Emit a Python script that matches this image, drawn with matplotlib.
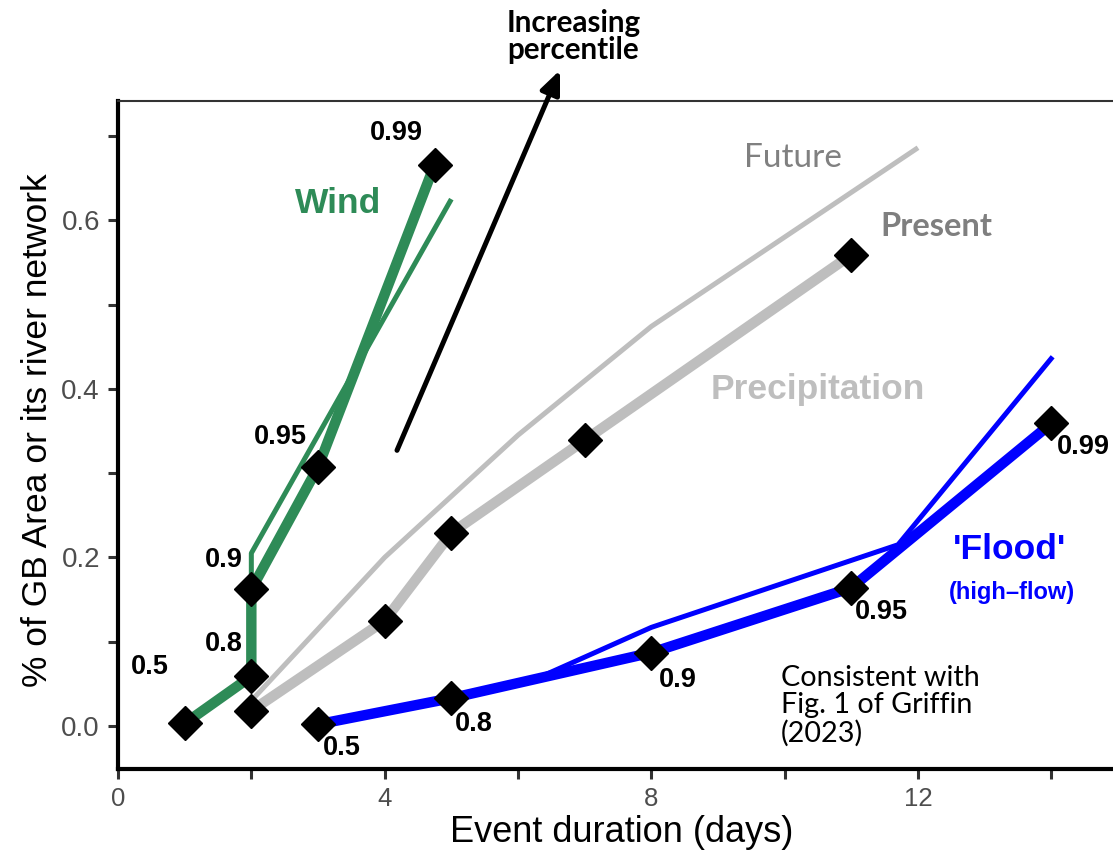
import matplotlib
matplotlib.use("Agg")
import matplotlib.pyplot as plt
import numpy as np

# present day (thick lines with markers)
wind_x = [1, 2, 2, 3, 4.75]
wind_y = [0.003, 0.059, 0.162, 0.307, 0.666]
precip_x = [2, 4, 5, 7, 11]
precip_y = [0.018, 0.125, 0.229, 0.339, 0.559]
flood_x = [3, 5, 8, 11, 14]
flood_y = [0.002, 0.033, 0.087, 0.164, 0.359]

# future (thin lines)
wind_fut_x = [2, 2, 3, 4, 5.0]
wind_fut_y = [0.07, 0.205, 0.345, 0.485, 0.625]
precip_fut_x = [2, 4, 6, 8, 12]
precip_fut_y = [0.03, 0.2, 0.345, 0.474, 0.686]
flood_fut_x = [3, 6.3, 8, 11.7, 14.02]
flood_fut_y = [0.0, 0.057, 0.117, 0.215, 0.438]

wind_pct = ["0.5", "0.8", "0.9", "0.95", "0.99"]
flood_pct = ["0.5", "0.8", "0.9", "0.95", "0.99"]

GREEN = "#2E8B57"
GREY = "#BEBEBE"
BLUE = "#0000FF"
R_FONT = "Liberation Sans"
C_FONT = "Lato"

plt.rcParams['font.family'] = R_FONT

fig = plt.figure(figsize=(11.13, 8.59), dpi=100)
ax = fig.add_axes([118/1113, 90/859, 995/1113, 668/859])

thin = 3.6
thick = 7.5
for x, y, c in [(wind_fut_x, wind_fut_y, GREEN), (precip_fut_x, precip_fut_y, GREY), (flood_fut_x, flood_fut_y, BLUE)]:
    ax.plot(x, y, color=c, lw=thin, solid_capstyle='butt', solid_joinstyle='round', zorder=2)
for x, y, c in [(wind_x, wind_y, GREEN), (precip_x, precip_y, GREY), (flood_x, flood_y, BLUE)]:
    ax.plot(x, y, color=c, lw=thick, solid_capstyle='butt', solid_joinstyle='round', zorder=3)
    ax.plot(x, y, ls='none', marker='D', ms=17.5, color='black', zorder=5)

# percentile labels
wind_lab_pos = [(0.48, 0.070), (1.59, 0.097), (1.59, 0.197), (2.43, 0.343), (4.17, 0.703)]
flood_lab_pos = [(3.36, -0.026), (5.33, 0.002), (8.4, 0.055), (11.45, 0.135), (14.48, 0.331)]
for lab, (px, py) in zip(wind_pct, wind_lab_pos):
    ax.text(px, py, lab, fontsize=19.5, fontweight='bold', ha='center', va='center', zorder=6)
for lab, (px, py) in zip(flood_pct, flood_lab_pos):
    ax.text(px, py, lab, fontsize=19.5, fontweight='bold', ha='center', va='center', zorder=6, clip_on=False)

# series annotations
ax.text(3.30, 0.620, "Wind", color=GREEN, fontsize=25.5, fontweight='bold', ha='center', va='center')
ax.text(10.5, 0.399, "Precipitation", color=GREY, fontsize=25.5, fontweight='bold', ha='center', va='center')
ax.text(13.38, 0.209, "'Flood'", color=BLUE, fontsize=25.5, fontweight='bold', ha='center', va='center')
ax.text(13.41, 0.158, "(high\u2013flow)", color=BLUE, fontsize=17, fontweight='bold', ha='center', va='center')
ax.text(10.12, 0.674, "Future", color="#808080", fontsize=24, family=C_FONT, ha='center', va='center')
ax.text(12.28, 0.592, "Present", color="#7F7F7F", fontsize=23.5, family=C_FONT, fontweight='bold', ha='center', va='center')
ax.text(9.94, 0.072, "Consistent with\nFig. 1 of Griffin\n(2023)", fontsize=20.7, family=C_FONT,
        ha='left', va='top', linespacing=1.05)

ax.annotate("", xy=(6.63, 0.778), xytext=(4.185, 0.327),
            arrowprops=dict(arrowstyle='-|>,head_length=1.4,head_width=0.6', color='black', lw=3.6,
                            shrinkA=0, shrinkB=0), annotation_clip=False)
ax.text(6.83, 0.818, "Increasing\npercentile", fontsize=21.3, family=C_FONT, fontweight='bold',
        ha='center', va='center', linespacing=0.92, clip_on=False)

ax.set_xlim(0, 14.925)
ax.set_ylim(-0.051, 0.7414)
ax.set_xticks(np.arange(0, 15, 2))
ax.set_xticklabels(["0", "", "4", "", "8", "", "12", ""])
ax.set_yticks(np.arange(0, 0.71, 0.1))
ax.set_yticklabels(["0.0", "", "0.2", "", "0.4", "", "0.6", ""])
ax.tick_params(length=7, width=2.2, color="#333333", labelcolor="#4D4D4D", pad=6)
ax.tick_params(axis='x', labelsize=18.5)
ax.tick_params(axis='y', labelsize=20)

ax.spines['right'].set_visible(False)
ax.spines['left'].set_linewidth(3)
ax.spines['bottom'].set_linewidth(3)
ax.spines['top'].set_linewidth(1.5)
ax.spines['top'].set_color("#333333")

fig.text(38/1113, 1 - 430/859, "% of GB Area or its river network", rotation=90, fontsize=25.5,
         ha='center', va='center')
fig.text(622/1113, 1 - 833/859, "Event duration (days)", fontsize=26, ha='center', va='center')

fig.savefig("out.png", dpi=100)
